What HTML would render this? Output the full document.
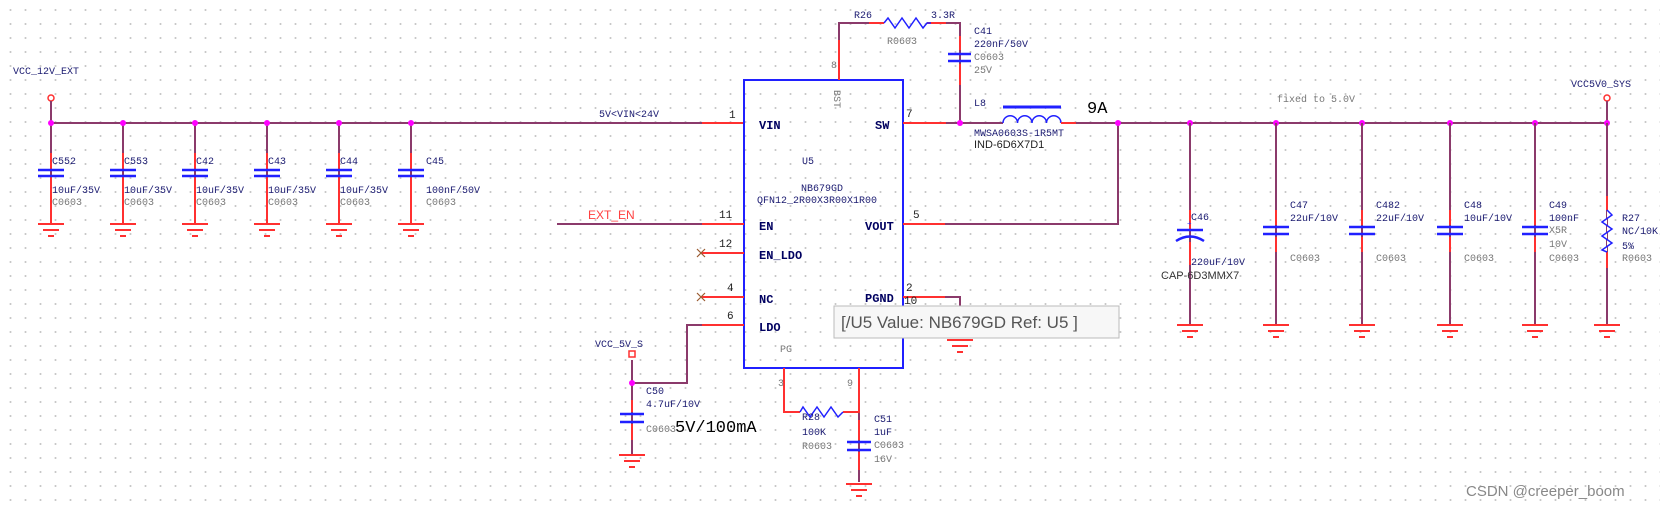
<!DOCTYPE html>
<html><head><meta charset="utf-8"><style>
html,body{margin:0;padding:0;background:#fff;}
#c{width:1660px;height:507px;position:relative;overflow:hidden;
background-image:radial-gradient(circle,#c8c8c8 0.8px,transparent 1.2px);background-size:15px 14px;background-position:3px 3px;}
svg{position:absolute;left:0;top:0}
.l{font-family:"Liberation Mono",monospace;font-size:10px;fill:#1a1a70}
.g{font-family:"Liberation Mono",monospace;font-size:10px;fill:#777}
.p{font-family:"Liberation Mono",monospace;font-size:11px;fill:#222}
.pn{font-family:"Liberation Mono",monospace;font-size:12px;fill:#000060;font-weight:bold}
.w{stroke:#8b3a6b;stroke-width:2;fill:none}
.r{stroke:#ff3030;stroke-width:2;fill:none}
.b{stroke:#2020ff;stroke-width:2.5;fill:none}
.j{fill:#ff00ff}
</style></head><body><div id="c">
<svg width="1660" height="507" viewBox="0 0 1660 507">
<defs>
<g id="gnd"><path d="M-13 0H13M-8 6H8M-3 12H3" stroke="#ff3030" stroke-width="2"/></g>
<g id="cap"><path d="M0 0V101" class="w"/><path d="M0 30V46M0 54V100" class="r"/><path d="M-13 47H13M-13 53H13" class="b"/><use href="#gnd" y="101"/></g>
<g id="capr"><path d="M0 123V324" class="w"/><path d="M0 210V225M0 237V252" class="r"/><path d="M-13 227H13M-13 234H13" class="b"/><use href="#gnd" y="325"/></g>
</defs>
<!-- left input -->
<text x="13" y="74" class="l">VCC_12V_EXT</text>
<circle cx="51" cy="98" r="3" fill="none" stroke="#ff3030" stroke-width="1.5"/>
<path d="M51 101V123M51 123H702" class="w"/>
<path d="M702 123H744" class="r"/>
<use href="#cap" x="51" y="123"/>
<use href="#cap" x="123" y="123"/>
<use href="#cap" x="195" y="123"/>
<use href="#cap" x="267" y="123"/>
<use href="#cap" x="339" y="123"/>
<use href="#cap" x="411" y="123"/>
<g class="j"><circle cx="51" cy="123" r="3"/><circle cx="123" cy="123" r="3"/><circle cx="195" cy="123" r="3"/><circle cx="267" cy="123" r="3"/><circle cx="339" cy="123" r="3"/><circle cx="411" cy="123" r="3"/></g>
<g class="l">
<text x="52" y="164">C552</text><text x="52" y="193">10uF/35V</text><text x="52" y="205" class="g">C0603</text>
<text x="124" y="164">C553</text><text x="124" y="193">10uF/35V</text><text x="124" y="205" class="g">C0603</text>
<text x="196" y="164">C42</text><text x="196" y="193">10uF/35V</text><text x="196" y="205" class="g">C0603</text>
<text x="268" y="164">C43</text><text x="268" y="193">10uF/35V</text><text x="268" y="205" class="g">C0603</text>
<text x="340" y="164">C44</text><text x="340" y="193">10uF/35V</text><text x="340" y="205" class="g">C0603</text>
<text x="426" y="164">C45</text><text x="426" y="193">100nF/50V</text><text x="426" y="205" class="g">C0603</text>
</g>
<text x="599" y="117" class="l">5V&lt;VIN&lt;24V</text>
<!-- U5 box -->
<rect x="744" y="80" width="159" height="288" fill="none" stroke="#2020ff" stroke-width="2"/>
<text x="729" y="118" class="p" font-size="12">1</text><text x="759" y="129" class="pn">VIN</text>
<text x="906" y="117" class="p" font-size="12">7</text><text x="875" y="129" class="pn">SW</text>
<text x="802" y="164" class="l">U5</text>
<text x="801" y="191" class="l">NB679GD</text>
<text x="757" y="203" class="l">QFN12_2R00X3R00X1R00</text>
<text x="834" y="90" class="g" font-size="9" fill="#9ab" transform="rotate(90 834 90)">BST</text>
<!-- BST / R26 / C41 -->
<path d="M839 80V23H884M931 23H960V123" class="w"/>
<path d="M839 80V40M869 23H884M927 23H946M960 36V50M960 64V85" class="r"/>
<path d="M884 23l4-5 7 10 7-10 7 10 7-10 7 10 4-5h4" stroke="#2020ff" stroke-width="1.5" fill="none"/>
<text x="854" y="18" class="l">R26</text><text x="931" y="18" class="l">3.3R</text><text x="887" y="44" class="g">R0603</text>
<text x="831" y="68" class="g">8</text>
<path d="M948 54H971M948 61H971" class="b"/>
<text x="974" y="34" class="l">C41</text><text x="974" y="47" class="l">220nF/50V</text><text x="974" y="60" class="g">C0603</text><text x="974" y="73" class="g">25V</text>
<!-- SW -->
<path d="M903 123H946" class="r"/>
<path d="M946 123H1003" class="w"/>
<circle cx="960" cy="123" r="3" class="j"/>
<path d="M1003 123a7.25 7.25 0 0 1 14.5 0a7.25 7.25 0 0 1 14.5 0a7.25 7.25 0 0 1 14.5 0a7.25 7.25 0 0 1 14.5 0" stroke="#2020ff" stroke-width="1.5" fill="none"/>
<path d="M1003 107H1061" stroke="#2020ff" stroke-width="3"/>
<path d="M1061 123H1076" class="r"/>
<path d="M1076 123H1607" class="w"/>
<text x="974" y="106" class="l">L8</text>
<text x="974" y="136" class="l">MWSA0603S-1R5MT</text>
<text x="974" y="148" font-family="Liberation Sans,sans-serif" font-size="11" fill="#222">IND-6D6X7D1</text>
<text x="1087" y="113" font-family="Liberation Mono,monospace" font-size="17" fill="#000">9A</text>
<!-- EN -->
<text x="588" y="219" font-family="Liberation Sans,sans-serif" font-size="12" fill="#ff4040">EXT_EN</text>
<path d="M557 224H702" class="w"/><path d="M702 224H744" class="r"/>
<text x="719" y="218" class="p" font-size="12">11</text><text x="759" y="230" class="pn">EN</text>
<!-- VOUT -->
<path d="M903 224H945" class="r"/><path d="M945 224H1118V123" class="w"/>
<text x="913" y="218" class="p" font-size="12">5</text><text x="865" y="230" class="pn">VOUT</text>
<!-- EN_LDO, NC -->
<path d="M702 253H744M702 297H744M702 325H744" class="r"/>
<path d="M697 249l8 8M705 249l-8 8M697 293l8 8M705 293l-8 8" stroke="#9a5a30" stroke-width="1.2"/>
<text x="719" y="247" class="p" font-size="12">12</text><text x="759" y="259" class="pn">EN_LDO</text>
<text x="727" y="291" class="p" font-size="12">4</text><text x="759" y="303" class="pn">NC</text>
<text x="727" y="319" class="p" font-size="12">6</text><text x="759" y="331" class="pn">LDO</text>
<!-- LDO wire and C50 -->
<path d="M702 325H687V383H632V360" class="w"/>
<text x="595" y="347" class="l">VCC_5V_S</text>
<rect x="629" y="351" width="6" height="6" fill="none" stroke="#ff3030" stroke-width="1.5"/>
<path d="M632 383V454" class="w"/><path d="M632 400V412M632 424V440" class="r"/>
<path d="M620 414H644M620 422H644" class="b"/>
<use href="#gnd" x="632" y="455"/>
<circle cx="632" cy="383" r="3" class="j"/>
<text x="646" y="394" class="l">C50</text><text x="646" y="407" class="l">4.7uF/10V</text><text x="646" y="432" class="g">C0603</text>
<text x="675" y="432" font-family="Liberation Mono,monospace" font-size="17" fill="#000">5V/100mA</text>
<!-- PGND -->
<path d="M903 297H945" class="r"/><path d="M945 297H960V338" class="w"/>
<use href="#gnd" x="960" y="340"/>
<text x="906" y="291" class="p" font-size="12">2</text><text x="904" y="304" class="p" font-size="12">10</text>
<text x="865" y="302" class="pn">PGND</text>
<!-- bottom PG / VCC -->
<path d="M784 368V412H800M843 412H859M859 368V482" class="w"/>
<path d="M784 368V412H800M843 412H859V368M859 420V440M859 452V470" class="r"/>
<path d="M800 412l3-5 7 10 7-10 7 10 7-10 7 10 5-5" stroke="#2020ff" stroke-width="1.5" fill="none"/>
<path d="M847 442H871M847 450H871" class="b"/>
<use href="#gnd" x="859" y="484"/>
<text x="778" y="386" class="g">3</text><text x="847" y="386" class="g">9</text>
<text x="802" y="420" class="l">R28</text><text x="802" y="435" class="l">100K</text><text x="802" y="449" class="g">R0603</text>
<text x="874" y="422" class="l">C51</text><text x="874" y="435" class="l">1uF</text><text x="874" y="448" class="g">C0603</text><text x="874" y="462" class="g">16V</text>
<text x="780" y="352" class="g" font-size="9" fill="#9ab">PG</text>
<!-- right output caps -->
<text x="1277" y="102" class="g">fixed to 5.0V</text>
<text x="1571" y="87" class="l">VCC5V0_SYS</text>
<circle cx="1607" cy="98" r="3" fill="none" stroke="#ff3030" stroke-width="1.5"/>
<path d="M1607 101V123" class="w"/>
<g class="j"><circle cx="1118" cy="123" r="3"/><circle cx="1190" cy="123" r="3"/><circle cx="1276" cy="123" r="3"/><circle cx="1362" cy="123" r="3"/><circle cx="1450" cy="123" r="3"/><circle cx="1535" cy="123" r="3"/><circle cx="1607" cy="123" r="3"/></g>
<!-- C46 polarized -->
<path d="M1190 123V324" class="w"/><path d="M1190 210V229M1190 242V265" class="r"/>
<path d="M1177 230H1203" class="b"/><path d="M1176 241Q1190 232 1204 241" class="b"/>
<text x="1187" y="226" font-size="8" fill="#2020ff">+</text>
<use href="#gnd" x="1190" y="325"/>
<text x="1191" y="220" class="l">C46</text><text x="1191" y="265" class="l">220uF/10V</text>
<text x="1161" y="279" font-family="Liberation Sans,sans-serif" font-size="11" fill="#333">CAP-6D3MMX7</text>
<use href="#capr" x="1276"/>
<use href="#capr" x="1362"/>
<use href="#capr" x="1450"/>
<use href="#capr" x="1535"/>
<text x="1290" y="208" class="l">C47</text><text x="1290" y="221" class="l">22uF/10V</text><text x="1290" y="261" class="g">C0603</text>
<text x="1376" y="208" class="l">C482</text><text x="1376" y="221" class="l">22uF/10V</text><text x="1376" y="261" class="g">C0603</text>
<text x="1464" y="208" class="l">C48</text><text x="1464" y="221" class="l">10uF/10V</text><text x="1464" y="261" class="g">C0603</text>
<text x="1549" y="208" class="l">C49</text><text x="1549" y="221" class="l">100nF</text><text x="1549" y="233" class="g">X5R</text><text x="1549" y="247" class="g">10V</text><text x="1549" y="261" class="g">C0603</text>
<!-- R27 -->
<path d="M1607 123V324" class="w"/><path d="M1607 196V210M1607 252V268" class="r"/>
<path d="M1607 210l5 5-10 7 10 7-10 7 10 7-10 7 5 2" stroke="#2020ff" stroke-width="1.5" fill="#fff"/>
<use href="#gnd" x="1607" y="325"/>
<text x="1622" y="221" class="l">R27</text><text x="1622" y="234" class="l">NC/10K</text><text x="1622" y="249" class="l">5%</text><text x="1622" y="261" class="g">R0603</text>
<!-- tooltip -->
<rect x="834" y="306" width="285" height="32" fill="#f7f7f7" stroke="#bbb" stroke-width="1"/>
<text x="841" y="328" font-family="Liberation Sans,sans-serif" font-size="17" fill="#555">[/U5 Value: NB679GD Ref: U5 ]</text>
<text x="1466" y="496" font-family="Liberation Sans,sans-serif" font-size="15" fill="#888">CSDN @creeper_boom</text>
</svg></div></body></html>
